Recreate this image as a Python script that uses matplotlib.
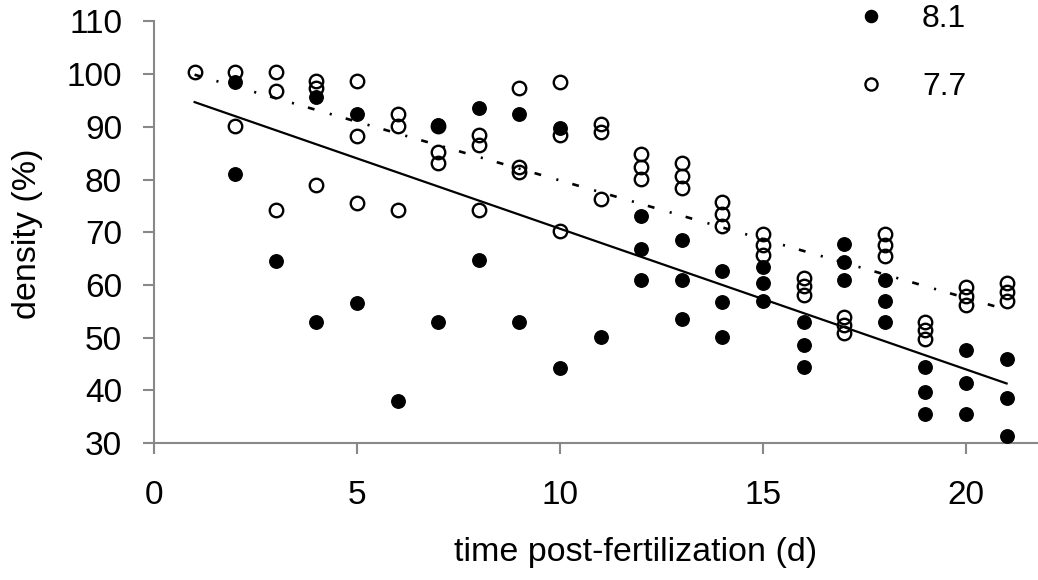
import matplotlib.pyplot as plt

plt.rcParams['font.family'] = ['Liberation Sans', 'DejaVu Sans']

# pH 8.1 (filled) - density (%) per day
days_81 = [2, 2,
           3,
           4, 4,
           5, 5,
           6,
           7, 7,
           8, 8,
           9, 9,
           10, 10,
           11,
           12, 12, 12,
           13, 13, 13,
           14, 14, 14,
           15, 15, 15,
           16, 16, 16,
           17, 17, 17,
           18, 18, 18,
           19, 19, 19,
           20, 20, 20,
           21, 21, 21]
dens_81 = [98.5, 81.1,
           64.6,
           95.6, 53.0,
           92.5, 56.5,
           38.0,
           90.3, 53.0,
           93.5, 64.8,
           92.5, 53.0,
           89.8, 44.2,
           50.1,
           73.0, 66.9, 60.9,
           68.6, 60.9, 53.5,
           62.6, 56.7, 50.2,
           63.4, 60.4, 56.9,
           53.0, 48.6, 44.5,
           67.7, 64.3, 61.0,
           61.0, 57.0, 53.0,
           44.5, 39.6, 35.5,
           47.7, 41.3, 35.5,
           45.9, 38.5, 31.3]

# pH 7.7 (open)
days_77 = [1,
           2, 2,
           3, 3, 3,
           4, 4, 4,
           5, 5, 5,
           6, 6, 6,
           7, 7, 7,
           8, 8, 8,
           9, 9, 9,
           10, 10, 10,
           11, 11, 11,
           12, 12, 12,
           13, 13, 13,
           14, 14, 14,
           15, 15, 15,
           16, 16, 16,
           17, 17, 17,
           18, 18, 18,
           19, 19, 19,
           20, 20, 20,
           21, 21, 21]
dens_77 = [100.4,
           100.4, 90.1,
           100.4, 96.8, 74.3,
           98.7, 97.3, 79.0,
           98.7, 88.3, 75.5,
           92.5, 90.2, 74.2,
           90.1, 85.2, 83.2,
           88.4, 86.6, 74.2,
           97.3, 82.3, 81.4,
           98.5, 88.4, 70.3,
           90.6, 89.1, 76.3,
           84.9, 82.3, 80.1,
           83.2, 80.6, 78.4,
           75.7, 73.5, 71.2,
           69.7, 67.6, 65.6,
           61.4, 59.8, 58.1,
           53.9, 52.4, 50.8,
           69.6, 67.5, 65.4,
           53.0, 51.4, 49.8,
           59.6, 57.9, 56.2,
           60.4, 58.7, 56.9]

# linear trendlines as drawn in the picture (start / end values)
trend_days = [1, 21]
trend_81 = [94.7, 41.3]
trend_77 = [99.9, 55.3]

labels = ['8.1', '7.7']

fig = plt.figure(figsize=(10.38, 5.8), dpi=100)
ax = fig.add_axes([154/1038, 1 - 443/580, 1 - 154/1038, (443 - 21.5)/580])

ax.plot(days_77, dens_77, 'o', markerfacecolor='none', markeredgecolor='black',
        markeredgewidth=1.7, markersize=9.7, label=labels[1], zorder=3)
ax.plot(days_81, dens_81, 'o', color='black', markersize=9.7, label=labels[0], zorder=4)

ax.plot(trend_days, trend_81, '-', color='black', lw=1.6, zorder=2)
ax.plot(trend_days, trend_77, color='black', lw=1.9,
        linestyle=(0, (2.6, 6, 0.8, 5.5)), zorder=2)

ax.set_xlim(0, (1038 - 154) / 40.6)
ax.set_ylim(30, 110)
ax.set_xticks([0, 5, 10, 15, 20])
ax.set_yticks(range(30, 111, 10))

for s in ['top', 'right']:
    ax.spines[s].set_visible(False)
for s in ['left', 'bottom']:
    ax.spines[s].set_color('#888888')
    ax.spines[s].set_linewidth(1.5)
ax.tick_params(axis='both', direction='out', length=8, width=1.5, color='#888888',
               labelsize=24)
ax.tick_params(axis='y', pad=15)
ax.tick_params(axis='x', pad=19)

ax.set_xlabel('time post-fertilization (d)', fontsize=24.5, va='center')
ax.xaxis.set_label_coords((636 - 154) / 884, -(553 - 443) / 421.5)
ax.set_ylabel('density (%)', fontsize=24.5, va='center', ha='center')
ax.yaxis.set_label_coords(-(154 - 28) / 884, (443 - 234) / 421.5)

handles, labs = ax.get_legend_handles_labels()
ax.legend(handles[::-1], labs[::-1], loc='upper left',
          bbox_to_anchor=(858/1038, 1 - 4/580),
          bbox_transform=fig.transFigure, frameon=False, fontsize=23,
          handletextpad=1.2, labelspacing=1.2, borderpad=0, borderaxespad=0,
          handlelength=0.8, markerscale=0.9)

fig.savefig('out.png', dpi=100)
